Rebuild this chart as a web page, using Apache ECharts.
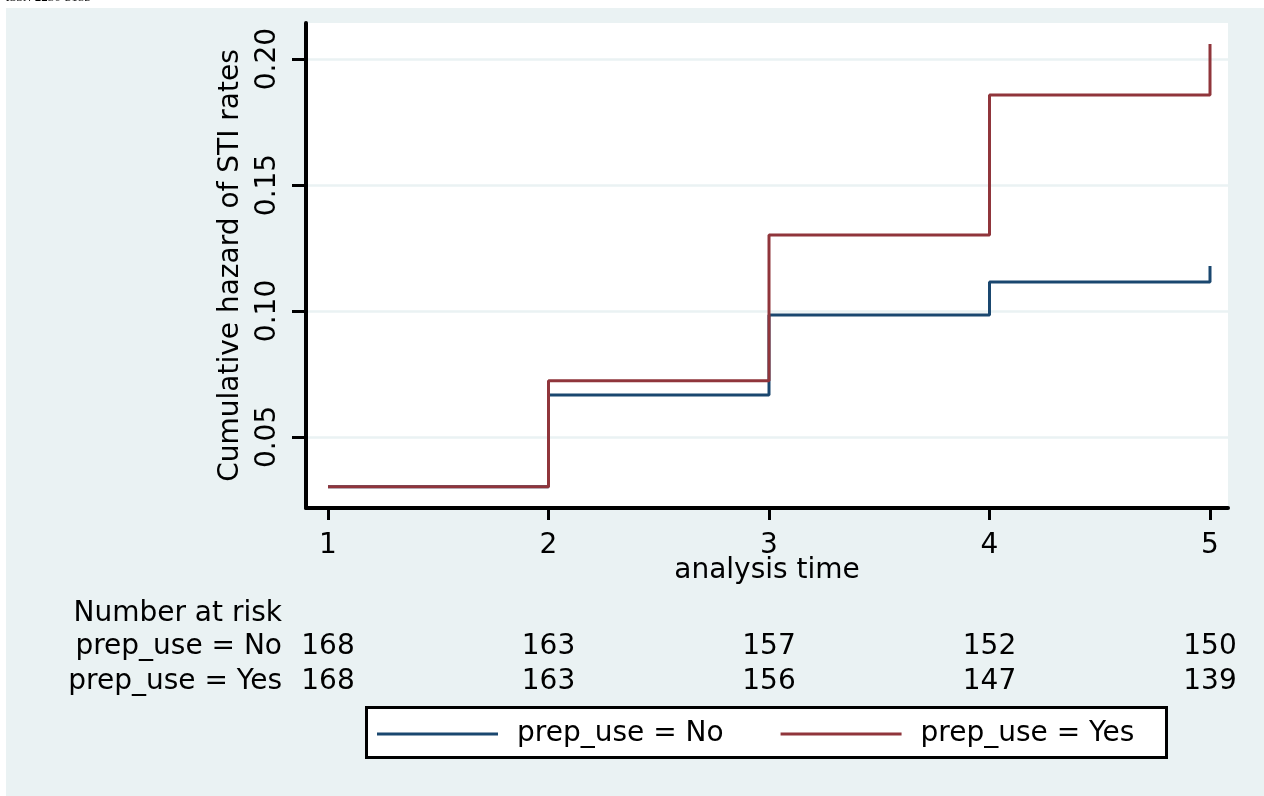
<!DOCTYPE html>
<html>
<head>
<meta charset="utf-8">
<script src="https://cdn.jsdelivr.net/npm/echarts@6/dist/echarts.min.js"></script>
<style>
html,body{margin:0;padding:0;background:#fff;width:1264px;height:796px;overflow:hidden;}
#panel{position:absolute;left:6px;top:8px;width:1258px;height:788px;background:#eaf2f3;}
#chart{position:absolute;left:0;top:0;width:1264px;height:796px;}
</style>
</head>
<body>
<div id="panel"></div>
<div id="chart"></div>
<script>
// ---- data ----
const times = [1, 2, 3, 4, 5];
const hazNo = [0.0302, 0.0667, 0.0984, 0.1115, 0.1179];
const hazYes = [0.0302, 0.0723, 0.1302, 0.1857, 0.2060];
const riskNo = [168, 163, 157, 152, 150];
const riskYes = [168, 163, 156, 147, 139];
const yTicks = [0.05, 0.10, 0.15, 0.20];
const seriesNames = ['prep_use = No', 'prep_use = Yes'];
const yTitle = 'Cumulative hazard of STI rates';
const xTitle = 'analysis time';
const riskTitle = 'Number at risk';
const headerText = 'ISSN 2250-3153';

const FONT = '"DejaVu Sans", sans-serif';
const FS = 28;
const X_MIN = 0.9002, X_MAX = 5.0816;
const Y_MIN = 0.0218, Y_MAX = 0.2143;

const chart = echarts.init(document.getElementById('chart'), null, {renderer: 'canvas'});

function riskAxis(name, offset, values) {
  return {
    type: 'value', gridIndex: 0, position: 'bottom', offset: offset,
    min: X_MIN, max: X_MAX,
    axisLine: {show: false}, axisTick: {show: false}, splitLine: {show: false},
    axisLabel: values ? {
      show: true, customValues: times, margin: 0, verticalAlign: 'middle',
      color: '#000', fontFamily: FONT, fontSize: FS,
      formatter: function (v) { const i = times.indexOf(v); return i >= 0 ? String(values[i]) : ''; }
    } : {show: false},
    name: name, nameLocation: 'start', nameGap: 24, nameMoveOverlap: false,
    nameTextStyle: {color: '#000', fontFamily: FONT, fontSize: FS, verticalAlign: 'middle', align: 'right'}
  };
}

const option = {
  animation: false,
  backgroundColor: 'transparent',
  grid: {
    left: 306, top: 23, right: 36, bottom: 288,
    show: true, backgroundColor: '#ffffff', borderWidth: 0,
    containLabel: false, outerBoundsMode: 'none'
  },
  xAxis: [
    {
      type: 'value', min: X_MIN, max: X_MAX, position: 'bottom',
      axisLine: {show: true, onZero: false, lineStyle: {color: '#000', width: 4}},
      axisTick: {show: true, customValues: times, length: 12, lineStyle: {color: '#000', width: 3}},
      axisLabel: {show: true, customValues: times, margin: 24, color: '#000', fontFamily: FONT, fontSize: FS,
        formatter: function (v) { return String(v); }},
      splitLine: {show: false},
      name: xTitle, nameLocation: 'middle', nameGap: 49, nameMoveOverlap: false,
      nameTextStyle: {color: '#000', fontFamily: FONT, fontSize: FS}
    },
    riskAxis(seriesNames[0], 139, riskNo),
    riskAxis(seriesNames[1], 174, riskYes),
    riskAxis(riskTitle, 106, null)
  ],
  yAxis: {
    type: 'value', min: Y_MIN, max: Y_MAX,
    axisLine: {show: true, onZero: false, lineStyle: {color: '#000', width: 4}},
    axisTick: {show: true, customValues: yTicks, length: 14, lineStyle: {color: '#000', width: 3}},
    axisLabel: {show: true, customValues: yTicks, rotate: 90, margin: 24, color: '#000', fontFamily: FONT, fontSize: FS,
      formatter: function (v) { return v.toFixed(2); }},
    splitLine: {show: true, lineStyle: {color: '#eaf2f3', width: 2.5}},
    name: yTitle, nameLocation: 'middle', nameRotate: 90, nameGap: 61, nameMoveOverlap: false,
    nameTextStyle: {color: '#000', fontFamily: FONT, fontSize: FS}
  },
  legend: {
    show: true, left: 377, top: 720, orient: 'horizontal',
    padding: 0, itemGap: 57, itemWidth: 121, itemHeight: 3, icon: 'rect',
    itemStyle: {borderWidth: 0},
    textStyle: {color: '#000', fontFamily: FONT, fontSize: FS, padding: [0, 0, 0, 14]},
    data: seriesNames, selectedMode: false
  },
  graphic: [
    {type: 'rect', z: 1, shape: {x: 366.5, y: 707.5, width: 800, height: 50},
     style: {fill: '#fff', stroke: '#000', lineWidth: 3}},
    {type: 'text', z: 1, x: 6, y: -9,
     style: {text: headerText, fill: '#000', font: 'italic 13px "Liberation Serif", serif'}}
  ],
  series: [
    {name: seriesNames[0], type: 'line', step: 'end', xAxisIndex: 0, yAxisIndex: 0,
     showSymbol: false, symbol: 'none', color: '#1a476f',
     lineStyle: {color: '#1a476f', width: 3, cap: 'butt'},
     data: times.map(function (t, i) { return [t, hazNo[i]]; })},
    {name: seriesNames[1], type: 'line', step: 'end', xAxisIndex: 0, yAxisIndex: 0,
     showSymbol: false, symbol: 'none', color: '#90353b',
     lineStyle: {color: '#90353b', width: 3, cap: 'butt'},
     data: times.map(function (t, i) { return [t, hazYes[i]]; })}
  ]
};
chart.setOption(option);
</script>
</body>
</html>
